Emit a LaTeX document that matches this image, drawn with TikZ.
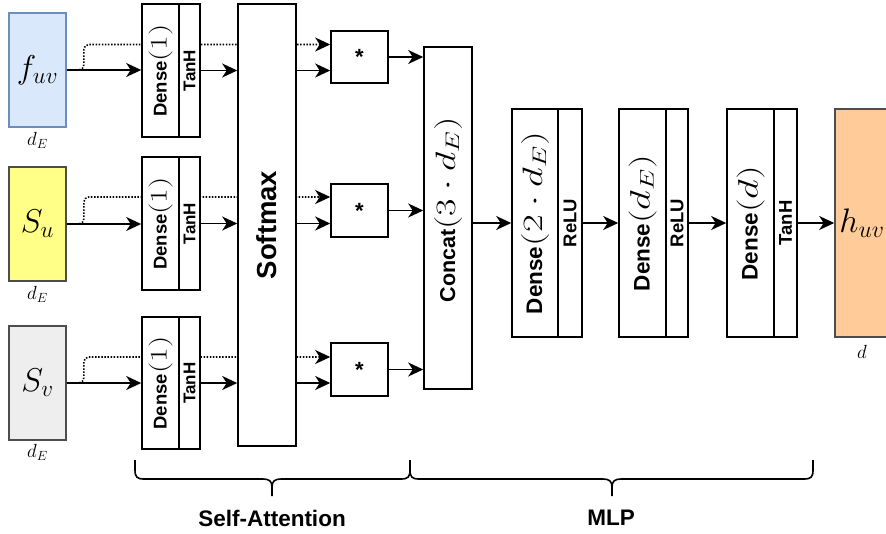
\RequirePackage{fix-cm}
\documentclass[tikz,border=0pt]{standalone}
\usepackage{fontspec}
\usepackage{graphicx}
\usetikzlibrary{arrows.meta}
\newfontfamily\lsans{Liberation Sans}
\newcommand\fsz[1]{\fontsize{#1}{#1}\selectfont}
% stretched math as in the reference: size, horizontal factor, formula
\newcommand\smath[3]{{\fsz{#1}\scalebox{#2}[1]{$#3$}}}
\definecolor{bluefill}{HTML}{DAE8FC}
\definecolor{blueline}{HTML}{6C8EBF}
\definecolor{yellowfill}{HTML}{FFFF88}
\definecolor{grayfill}{HTML}{EEEEEE}
\definecolor{orangefill}{HTML}{FFCC99}
\definecolor{darkline}{HTML}{4D4D4D}
\tikzset{
  box/.style={draw=black, line width=1.6pt, fill=white, inner sep=0pt, font=\lsans\bfseries},
  inbox/.style={draw=darkline, line width=1.6pt, inner sep=0pt, minimum width=57pt, minimum height=114pt},
  arr/.style={line width=1.6pt, -{Stealth[length=15pt,width=14pt,inset=4.5pt]}},
  dots/.style={line width=1.6pt, dash pattern=on 1.5pt off 1.6pt, rounded corners=5pt, -{Stealth[length=15pt,width=14pt,inset=4.5pt]}},
  brc/.style={line width=1.6pt},
  lbl/.style={inner sep=0pt},
  captxt/.style={inner sep=0pt, font=\lsans\bfseries\fsz{22.5}}
}
\begin{document}
\begin{tikzpicture}[x=1pt,y=-1pt]
\clip (0,0) rectangle (886,533);
\fill[white] (0,0) rectangle (886,533);

% inputs
\node[inbox, fill=bluefill, draw=blueline] (fuv) at (37.5,70) {\fsz{33}$f_{uv}$};
\node[inbox, fill=yellowfill] (su) at (37.5,224) {\fsz{33}$S_u$};
\node[inbox, fill=grayfill] (sv) at (37.5,383) {\fsz{33}$S_v$};
\node[lbl] (l1) at (37.5,140) {\fsz{19}$d_E$};
\node[lbl] (l2) at (37.5,294) {\fsz{19}$d_E$};
\node[lbl] (l3) at (37.5,452) {\fsz{19}$d_E$};

% multiplications
\node[box, minimum width=57pt, minimum height=52pt] (m1) at (359.5,57) {\fsz{22}*};
\node[box, minimum width=57pt, minimum height=53pt] (m2) at (359.5,210.5) {\fsz{22}*};
\node[box, minimum width=57pt, minimum height=53pt] (m3) at (359.5,369.5) {\fsz{22}*};

% dotted skip connections (drawn below the boxes)
\draw[dots] (fuv.east) -- ++(17,0) |- ([yshift=12.5pt]m1.west);
\draw[dots] (su.east) -- ++(17,0) |- ([yshift=13.5pt]m2.west);
\draw[dots] (sv.east) -- ++(17,0) |- ([yshift=12.5pt]m3.west);

% dense(1) blocks
\node[box, minimum width=37pt, minimum height=133pt] (d1) at (160.5,70.5) {\rotatebox{90}{\fsz{18.5}Dense\smath{24}{1.33}{(1)}}};
\node[box, minimum width=21pt, minimum height=133pt] (d1a) at (189.5,70.5) {\rotatebox{90}{\fsz{17}TanH}};
\node[box, minimum width=37pt, minimum height=133pt] (d2) at (160.5,223.5) {\rotatebox{90}{\fsz{18.5}Dense\smath{24}{1.33}{(1)}}};
\node[box, minimum width=21pt, minimum height=133pt] (d2a) at (189.5,223.5) {\rotatebox{90}{\fsz{17}TanH}};
\node[box, minimum width=37pt, minimum height=132pt] (d3) at (160.5,383) {\rotatebox{90}{\fsz{18.5}Dense\smath{24}{1.33}{(1)}}};
\node[box, minimum width=21pt, minimum height=132pt] (d3a) at (189.5,383) {\rotatebox{90}{\fsz{17}TanH}};

% softmax
\node[box, minimum width=58pt, minimum height=442pt] (sm) at (267,225) {\rotatebox{90}{\fsz{27.5}Softmax}};

% concat
\node[box, minimum width=48pt, minimum height=342pt] (cc) at (448,218) {\rotatebox{90}{\hspace*{16pt}\fsz{21.5}Concat\smath{28}{1.35}{(3\cdot d_E)}}};

% MLP
\node[box, minimum width=46pt, minimum height=228pt] (e1) at (535,223) {\rotatebox{90}{\fsz{22.5}Dense\smath{28}{1.38}{(2\cdot d_E)}}};
\node[box, minimum width=24pt, minimum height=228pt] (e1a) at (570,223) {\rotatebox{90}{\fsz{18.5}ReLU}};
\node[box, minimum width=47pt, minimum height=228pt] (e2) at (642.5,223) {\rotatebox{90}{\fsz{22.5}Dense\smath{28}{1.38}{(d_E)}}};
\node[box, minimum width=22pt, minimum height=228pt] (e2a) at (677,223) {\rotatebox{90}{\fsz{18.5}ReLU}};
\node[box, minimum width=47pt, minimum height=228pt] (e3) at (750.5,223) {\rotatebox{90}{\fsz{22.5}Dense\smath{28}{1.38}{(d)}}};
\node[box, minimum width=23pt, minimum height=228pt] (e3a) at (785.5,223) {\rotatebox{90}{\fsz{18.5}TanH}};
\node[inbox, fill=orangefill, minimum width=54pt, minimum height=228pt] (huv) at (862,223) {\fsz{34}$h_{uv}$};
\node[lbl] (l4) at (862,352) {\fsz{19}$d$};

% solid arrows
\draw[arr] (fuv.east) -- (fuv.east -| d1.west);
\draw[arr] (su.east) -- (su.east -| d2.west);
\draw[arr] (sv.east) -- (sv.east -| d3.west);
\draw[arr] (d1a.east) -- (d1a.east -| sm.west);
\draw[arr] (d2a.east) -- (d2a.east -| sm.west);
\draw[arr] (d3a.east) -- (d3a.east -| sm.west);
\draw[arr] (sm.east |- d1a.east) -- (m1.west |- d1a.east);
\draw[arr] (sm.east |- d2a.east) -- (m2.west |- d2a.east);
\draw[arr] (sm.east |- d3a.east) -- (m3.west |- d3a.east);
\draw[arr] (m1.east) -- (m1.east -| cc.west);
\draw[arr] (m2.east) -- (m2.east -| cc.west);
\draw[arr] (m3.east) -- (m3.east -| cc.west);
\draw[arr] (cc.east |- e1.west) -- (e1.west);
\draw[arr] (e1a.east) -- (e2.west);
\draw[arr] (e2a.east) -- (e3.west);
\draw[arr] (e3a.east) -- (huv.west);

% braces
\draw[brc] (135,460) -- (135,470) .. controls (135,477) and (137,479) .. (144,479) -- (263,479)
  .. controls (269,479) and (272,481) .. (272,487) -- (272,496);
\draw[brc] (272,487) .. controls (272,481) and (275,479) .. (281,479) -- (401,479)
  .. controls (408,479) and (410,477) .. (410,470) -- (410,460);
\draw[brc] (410,470) .. controls (410,477) and (412,479) .. (419,479) -- (603,479)
  .. controls (609,479) and (612,481) .. (612,487) -- (612,496);
\draw[brc] (612,487) .. controls (612,481) and (615,479) .. (621,479) -- (804,479)
  .. controls (811,479) and (813,477) .. (813,470) -- (813,460);
\node[captxt] (t1) at (272,518) {Self-Attention};
\node[captxt] (t2) at (611,518) {MLP};
\end{tikzpicture}
\end{document}
